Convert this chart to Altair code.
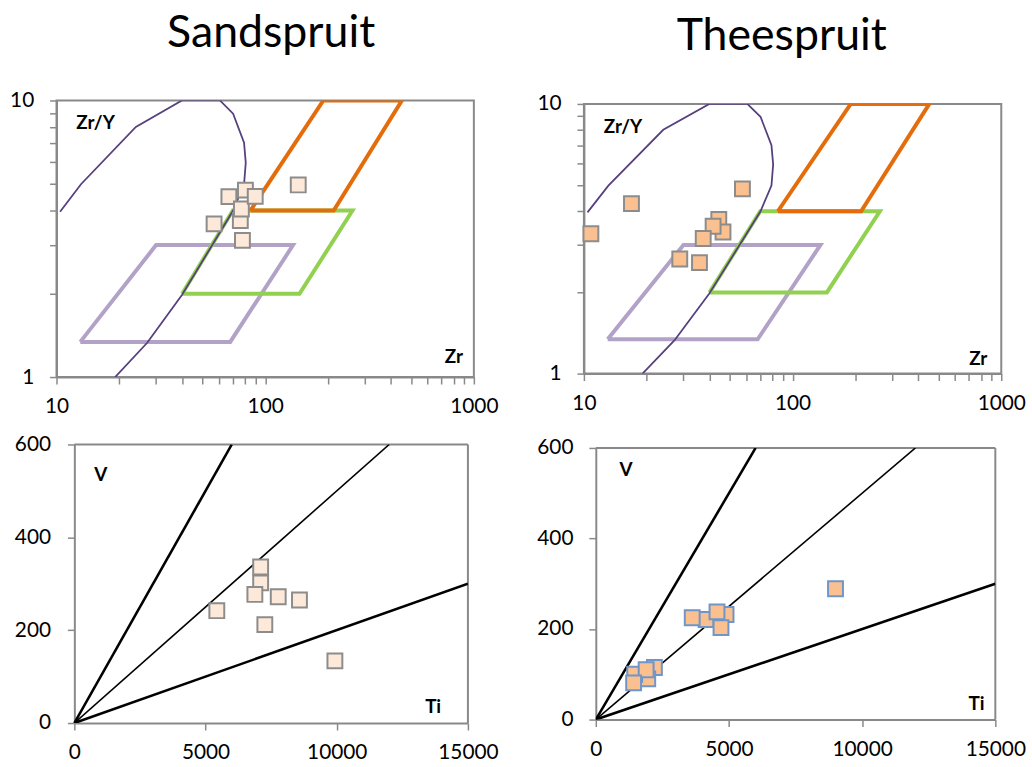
import altair as alt
import pandas as pd

FONT = "Lato"
AXIS_GRAY = "#898989"

# ---------------- Zr vs Zr/Y (log-log) ----------------
sand_zr = [67, 80.4, 76, 76.9, 89.6, 56.9, 77.8, 144]
sand_zry = [4.49, 4.74, 3.68, 4.05, 4.50, 3.58, 3.12, 4.95]

thee_zr = [10.8, 16.9, 57.5, 44.3, 46.4, 41.6, 37.3, 28.8, 35.8]
thee_zry = [3.30, 4.27, 4.84, 3.73, 3.35, 3.52, 3.17, 2.66, 2.58]

# discrimination field outlines
curve_zr = [10.4, 13.1, 24.0, 39.9, 60.7, 70.2, 79.2, 80.7, 79.2, 70.2, 39.9, 27.2, 19.1]
curve_zry = [3.96, 4.98, 8.02, 10, 10, 8.96, 7.03, 5.96, 4.98, 4.0, 1.98, 1.33, 1.0]

lav_zr = [13, 30, 136, 68, 13]
lav_zry = [1.34, 3, 3, 1.34, 1.34]
green_zr = [40, 70, 262, 146, 40]
green_zry = [2, 4, 4, 2, 2]
orange_zr = [85, 190, 452, 213, 85]
orange_zry = [4, 10, 10, 4, 4]

zr_ticks = [10, 20, 30, 40, 50, 60, 70, 80, 90, 100,
            200, 300, 400, 500, 600, 700, 800, 900, 1000]
zry_ticks = [1, 2, 3, 4, 5, 6, 7, 8, 9, 10]

# ---------------- Ti vs V ----------------
sand_ti = [5430, 7100, 7100, 6880, 7770, 8580, 7260, 9930]
sand_v = [242, 336, 302, 277, 272, 265, 212, 134]

thee_ti = [9000, 4890, 4140, 3620, 4550, 4700, 2200, 1950, 1460, 1890, 1420]
thee_v = [289, 232, 221, 225, 238, 203, 115, 90, 100, 110, 81]

ratio_names = ["Ti/V=10", "Ti/V=20", "Ti/V=50"]
ratio_ti_end = [6000, 12000, 15000]
ratio_v_end = [600, 600, 300]
thin_lines = ["Ti/V=20"]

ti_ticks = [0, 5000, 10000, 15000]
v_ticks = [0, 200, 400, 600]

titles = ["Sandspruit", "Theespruit"]

# ---------------- tables ----------------
fields_rows = []
for name, xs_, ys_ in [("lav", lav_zr, lav_zry), ("green", green_zr, green_zry),
                       ("orange", orange_zr, orange_zry)]:
    for i, (a, b) in enumerate(zip(xs_, ys_)):
        fields_rows.append({"zr": a, "zry": b, "field": name, "i": i})
fields_df = pd.DataFrame(fields_rows)
curve_df = pd.DataFrame({"zr": curve_zr, "zry": curve_zry, "i": range(len(curve_zr))})

ratio_rows = []
for name, te, ve in zip(ratio_names, ratio_ti_end, ratio_v_end):
    thin = name in thin_lines
    ratio_rows.append({"ti": 0, "v": 0, "line": name, "i": 0, "thin": thin})
    ratio_rows.append({"ti": te, "v": ve, "line": name, "i": 1, "thin": thin})
ratio_df = pd.DataFrame(ratio_rows)

one_row = pd.DataFrame({"k": [0]})


def label_layer(text, x, y, align):
    return alt.Chart(pd.DataFrame({"t": [text]})).mark_text(
        font=FONT, fontSize=19, fontWeight="bold", color="#000",
        align=align, baseline="middle"
    ).encode(text="t:N", x=alt.value(x), y=alt.value(y))


def zr_panel(title, zr, zry, fill, stroke, w, h, zr_dx, zr_dy, title_dx):
    xs = alt.Scale(type="log", domain=[10, 1000], nice=False)
    ys = alt.Scale(type="log", domain=[1, 10], nice=False)
    X = alt.X("zr:Q", scale=xs, axis=alt.Axis(
        values=zr_ticks, title=None, labelPadding=12, labelFlush=False,
        labelExpr="(datum.value == 10 || datum.value == 100 || datum.value == 1000) ? toString(datum.value) : ''"))
    Y = alt.Y("zry:Q", scale=ys, axis=alt.Axis(
        values=zry_ticks, title=None, labelPadding=16, labelFlush=False,
        labelExpr="(datum.value == 1 || datum.value == 10) ? toString(datum.value) : ''"))
    fields = alt.Chart(fields_df).mark_line(strokeWidth=4, clip=True, strokeJoin="miter").encode(
        x=X, y=Y,
        color=alt.Color("field:N", scale=alt.Scale(domain=["lav", "green", "orange"],
                                                   range=["#b3a2c7", "#92d050", "#e46c0a"]),
                        legend=None),
        detail="field:N", order="i:Q")
    curve = alt.Chart(curve_df).mark_line(strokeWidth=1.8, color="#56407e", clip=True).encode(
        x=X, y=Y, order="i:Q")
    pts = alt.Chart(pd.DataFrame({"zr": zr, "zry": zry})).mark_square(
        size=225, fill=fill, stroke=stroke, strokeWidth=2, opacity=1).encode(x=X, y=Y)
    return alt.layer(
        fields, curve, pts,
        label_layer("Zr/Y", 20, 23, "left"),
        label_layer("Zr", w - zr_dx, h - zr_dy, "right"),
    ).properties(width=w, height=h, title=alt.TitleParams(
        title, font=FONT, fontSize=45, fontWeight="normal", color="#000",
        anchor="middle", offset=34, dx=title_dx))


def tiv_panel(ti, v, fill, stroke, w, h, vx, vy, tix, ylp, shift):
    # the visible plot frame runs from x=shift to x=w inside the view
    xs = alt.Scale(domain=[0, 15000], nice=False, range=[shift, w])
    ys = alt.Scale(domain=[0, 600], nice=False)
    X = alt.X("ti:Q", scale=xs, axis=alt.Axis(values=ti_ticks, title=None, format="d",
                                              labelPadding=12, labelFlush=False))
    Y = alt.Y("v:Q", scale=ys, axis=alt.Axis(values=v_ticks, title=None, format="d",
                                             labelPadding=ylp, labelFlush=False, offset=-shift))
    base = alt.Chart(ratio_df).encode(x=X, y=Y, detail="line:N", order="i:Q")
    thick = base.transform_filter("!datum.thin").mark_line(color="#000", strokeWidth=2.6, clip=True)
    thin = base.transform_filter("datum.thin").mark_line(color="#000", strokeWidth=1.6, clip=True)
    pts = alt.Chart(pd.DataFrame({"ti": ti, "v": v})).mark_square(
        size=225, fill=fill, stroke=stroke, strokeWidth=2, opacity=1).encode(x=X, y=Y)
    top_edge = alt.Chart(one_row).mark_rule(color=AXIS_GRAY, strokeWidth=2).encode(
        x=alt.value(shift), x2=alt.value(w), y=alt.value(0))
    right_edge = alt.Chart(one_row).mark_rule(color=AXIS_GRAY, strokeWidth=2).encode(
        x=alt.value(w), y=alt.value(0), y2=alt.value(h))
    return alt.layer(
        top_edge, right_edge, thick, thin, pts,
        label_layer("V", shift + vx, vy, "left"),
        label_layer("Ti", w - tix, h - 16, "right"),
    ).properties(width=w, height=h, view=alt.ViewBackground(stroke="transparent"))


tl = zr_panel(titles[0], sand_zr, sand_zry, "#fde9d9", "#8c8c8c", 421, 279, 11, 20, 6)
tr = zr_panel(titles[1], thee_zr, thee_zry, "#fac090", "#8c8c8c", 421, 272, 14, 15, -11)
bl = tiv_panel(sand_ti, sand_v, "#fde9d9", "#8c8c8c", 415, 281, 20, 31, 27, 17, 18)
br = tiv_panel(thee_ti, thee_v, "#fac090", "#6f95c9", 403, 274, 24, 22, 11, 16, 0)

top_row = alt.hconcat(tl, tr, spacing=36, center=True)
bottom_row = alt.hconcat(bl, br, spacing=36, center=True)

chart = alt.vconcat(top_row, bottom_row, spacing=15).properties(
    padding={"left": 8, "top": 7, "right": 5, "bottom": 0}
).configure(font=FONT).configure_view(
    stroke=AXIS_GRAY, strokeWidth=2
).configure_axis(
    labelFont=FONT, labelFontSize=21, labelColor="#000", domainColor=AXIS_GRAY, domainWidth=2,
    tickColor=AXIS_GRAY, tickWidth=1.5, tickSize=7, grid=False, labelOverlap=False
)

chart.save("out.html", embed_options={"renderer": "svg", "actions": False})
